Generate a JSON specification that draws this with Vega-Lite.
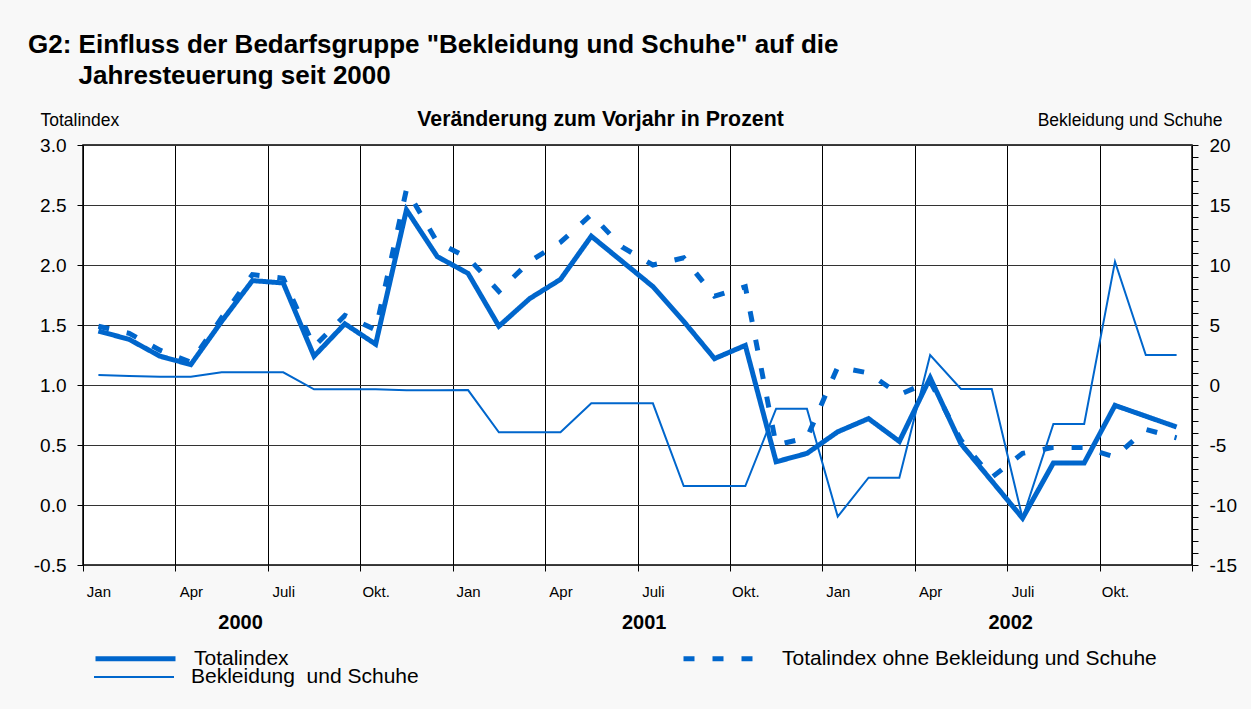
{
  "$schema": "https://vega.github.io/schema/vega-lite/v6.json",
  "autosize": {"type": "none"},
  "width": 1109,
  "height": 420,
  "padding": {"left": 83, "top": 145, "right": 59, "bottom": 144},
  "background": "#f8f8f8",
  "config": {
    "font": "Liberation Sans",
    "view": {"stroke": "#000", "strokeWidth": 1.5, "fill": "#ffffff"},
    "title": {"font": "Liberation Sans", "fontSize": 26, "fontWeight": "bold", "color": "#000", "anchor": "start", "frame": "group", "dx": -55, "dy": -15, "lineHeight": 31},
    "axis": {"labelFont": "Liberation Sans", "titleFont": "Liberation Sans", "labelColor": "#000", "titleColor": "#000", "tickColor": "#000", "domain": false},
    "legend": {"labelFont": "Liberation Sans", "labelColor": "#000", "labelFontSize": 21, "labelLimit": 500, "symbolType": "stroke", "symbolSize": 6400, "symbolStrokeColor": "#0066cc", "labelOffset": 16, "padding": 0, "title": null}
  },
  "title": {"text": ["G2: Einfluss der Bedarfsgruppe \"Bekleidung und Schuhe\" auf die", "\u200b\u00a0\u00a0\u00a0\u00a0\u00a0\u00a0\u00a0Jahresteuerung seit 2000"]},
  "data": {"values": [
    {"m":0,"ti":1.45,"ohne":1.49,"bek":0.83},
    {"m":1,"ti":1.38,"ohne":1.43,"bek":0.75},
    {"m":2,"ti":1.24,"ohne":1.29,"bek":0.69},
    {"m":3,"ti":1.17,"ohne":1.19,"bek":0.69},
    {"m":4,"ti":1.53,"ohne":1.56,"bek":1.06},
    {"m":5,"ti":1.87,"ohne":1.92,"bek":1.06},
    {"m":6,"ti":1.85,"ohne":1.89,"bek":1.06},
    {"m":7,"ti":1.24,"ohne":1.32,"bek":-0.36},
    {"m":8,"ti":1.51,"ohne":1.58,"bek":-0.36},
    {"m":9,"ti":1.34,"ohne":1.46,"bek":-0.36},
    {"m":10,"ti":2.46,"ohne":2.63,"bek":-0.44},
    {"m":11,"ti":2.07,"ohne":2.19,"bek":-0.44},
    {"m":12,"ti":1.93,"ohne":2.06,"bek":-0.42},
    {"m":13,"ti":1.49,"ohne":1.78,"bek":-3.94},
    {"m":14,"ti":1.72,"ohne":2.03,"bek":-3.94},
    {"m":15,"ti":1.88,"ohne":2.19,"bek":-3.94},
    {"m":16,"ti":2.24,"ohne":2.42,"bek":-1.53},
    {"m":17,"ti":2.03,"ohne":2.15,"bek":-1.53},
    {"m":18,"ti":1.82,"ohne":2.0,"bek":-1.53},
    {"m":19,"ti":1.53,"ohne":2.06,"bek":-8.42},
    {"m":20,"ti":1.22,"ohne":1.74,"bek":-8.42},
    {"m":21,"ti":1.33,"ohne":1.82,"bek":-8.42},
    {"m":22,"ti":0.36,"ohne":0.5,"bek":-1.97},
    {"m":23,"ti":0.43,"ohne":0.56,"bek":-1.97},
    {"m":24,"ti":0.61,"ohne":1.15,"bek":-10.97},
    {"m":25,"ti":0.72,"ohne":1.1,"bek":-7.72},
    {"m":26,"ti":0.53,"ohne":0.92,"bek":-7.72},
    {"m":27,"ti":1.06,"ohne":1.03,"bek":2.5},
    {"m":28,"ti":0.51,"ohne":0.54,"bek":-0.33},
    {"m":29,"ti":0.2,"ohne":0.23,"bek":-0.33},
    {"m":30,"ti":-0.11,"ohne":0.43,"bek":-11.11},
    {"m":31,"ti":0.35,"ohne":0.48,"bek":-3.25},
    {"m":32,"ti":0.35,"ohne":0.48,"bek":-3.25},
    {"m":33,"ti":0.83,"ohne":0.4,"bek":10.28},
    {"m":34,"ti":0.74,"ohne":0.63,"bek":2.5},
    {"m":35,"ti":0.65,"ohne":0.56,"bek":2.5}
  ]},
  "resolve": {"scale": {"y": "independent", "strokeDash": "independent", "strokeWidth": "independent"}, "axis": {"x": "independent", "y": "independent"}},
  "layer": [
    {
      "transform": [{"fold": ["bek"], "as": ["series", "v"]}],
      "mark": {"type": "line", "color": "#0066cc", "strokeJoin": "miter"},
      "encoding": {
        "x": {"field": "m", "type": "quantitative", "scale": {"domain": [-0.5, 35.5], "nice": false, "zero": false},
              "axis": {"orient": "bottom", "values": [-0.5, 2.5, 5.5, 8.5, 11.5, 14.5, 17.5, 20.5, 23.5, 26.5, 29.5, 32.5, 35.5], "labels": false, "grid": true, "gridColor": "#000", "gridWidth": 1, "gridOpacity": 1, "ticks": true, "tickSize": 6, "title": null}},
        "y": {"field": "v", "type": "quantitative", "scale": {"domain": [-15, 20], "nice": false, "zero": false},
              "axis": {"orient": "right", "values": [-15,-14,-13,-12,-11,-10,-9,-8,-7,-6,-5,-4,-3,-2,-1,0,1,2,3,4,5,6,7,8,9,10,11,12,13,14,15,16,17,18,19,20],
                       "labelExpr": "datum.value % 5 === 0 ? replace(datum.label, '\u2212', '-') : ''", "labelOverlap": false, "grid": false, "tickSize": 6, "labelPadding": 11, "labelFontSize": 19,
                       "title": "Bekleidung und Schuhe", "titleAngle": 0, "titleX": 30, "titleY": -20, "titleAlign": "right", "titleBaseline": "alphabetic", "titleFontSize": 17.5, "titleFontWeight": "normal"}},
        "strokeWidth": {"field": "series", "type": "nominal", "scale": {"type": "ordinal", "domain": ["bek"], "range": [2]},
              "legend": {"orient": "none", "legendX": 10, "legendY": 491,
                         "labelExpr": "'Bekleidung\u00a0 und Schuhe'"}}
      }
    },
    {
      "transform": [{"fold": ["ohne", "ti"], "as": ["series", "v"]}],
      "mark": {"type": "line", "color": "#0066cc", "strokeJoin": "miter", "strokeWidth": 5},
      "encoding": {
        "x": {"field": "m", "type": "quantitative",
              "axis": {"orient": "bottom", "values": [0,3,6,9,12,15,18,21,24,27,30,33], "labelExpr": "datum.value % 12 === 0 ? 'Jan' : datum.value % 12 === 3 ? 'Apr' : datum.value % 12 === 6 ? 'Juli' : 'Okt.'",
                       "grid": false, "ticks": false, "tickSize": 0, "labelPadding": 31, "labelBaseline": "alphabetic", "labelFontSize": 15, "labelOverlap": false, "title": null}},
        "y": {"field": "v", "type": "quantitative", "scale": {"domain": [-0.5, 3.0], "nice": false, "zero": false},
              "axis": {"orient": "left", "values": [-0.5, 0, 0.5, 1, 1.5, 2, 2.5, 3], "format": ".1f", "labelExpr": "replace(datum.label, '\u2212', '-')", "grid": true, "gridColor": "#333", "gridOpacity": 1, "gridWidth": 1, "tickSize": 6, "labelPadding": 11, "labelFontSize": 19,
                       "title": "Totalindex", "titleAngle": 0, "titleX": -43, "titleY": -20, "titleAlign": "left", "titleBaseline": "alphabetic", "titleFontSize": 17.5, "titleFontWeight": "normal"}},
        "strokeDash": {"field": "series", "type": "nominal", "scale": {"domain": ["ti", "ohne"], "range": [[1, 0], [11, 18]]},
              "legend": {"orient": "none", "legendX": 10, "legendY": 471, "columns": 2, "columnPadding": 384, "symbolStrokeWidth": 5,
                         "labelExpr": "datum.value === 'ti' ? 'Totalindex' : 'Totalindex ohne Bekleidung und Schuhe'"}},
        "detail": {"field": "series"}
      }
    },
    {
      "mark": {"type": "point", "opacity": 0},
      "encoding": {
        "x": {"field": "m", "type": "quantitative",
              "axis": {"orient": "bottom", "values": [4.6, 17.7, 29.6], "labelExpr": "datum.value < 10 ? '2000' : datum.value < 22 ? '2001' : '2002'",
                       "grid": false, "ticks": false, "tickSize": 0, "labelPadding": 63, "labelBaseline": "alphabetic", "labelFontSize": 20, "labelFontWeight": "bold", "labelOverlap": false, "title": null}}
      }
    },
    {
      "mark": {"type": "point", "opacity": 0},
      "encoding": {
        "x": {"field": "m", "type": "quantitative",
              "axis": {"orient": "top", "labels": false, "ticks": false, "grid": false, "title": "Veränderung zum Vorjahr in Prozent",
                       "titleX": 517, "titleY": -20, "titleAlign": "center", "titleBaseline": "alphabetic", "titleFontSize": 21.3, "titleFontWeight": "bold"}}
      }
    }
  ]
}
